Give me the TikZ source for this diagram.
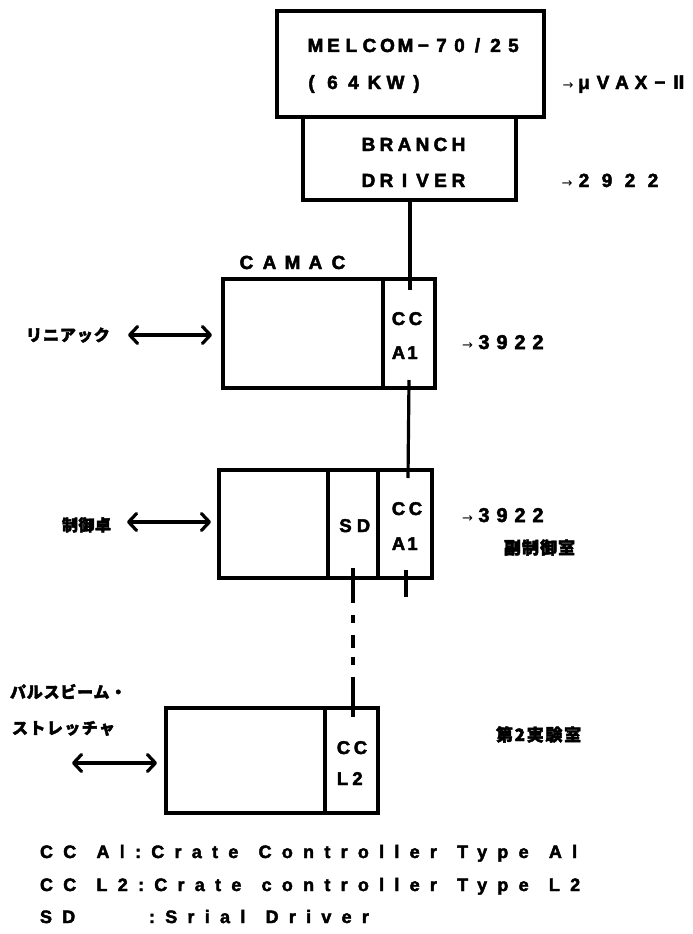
\documentclass[tikz,border=0pt]{standalone}
\usepackage{fontspec}
\setmainfont{Liberation Sans}
\newfontfamily\jp{Noto Sans CJK JP}
\newfontfamily\dv{DejaVu Sans}
\usetikzlibrary{arrows.meta}
\ExplSyntaxOn
\NewDocumentCommand\mono{mm}{\tl_map_inline:nn{#2}{\makebox[#1][c]{##1}}}
\ExplSyntaxOff
\newcommand\lsp[2]{{\addfontfeatures{LetterSpace=#1}#2}}
\newcommand\hv[1]{\bfseries\fontsize{#1}{#1}\selectfont\addfontfeatures{FakeBold=2.5}}
\newcommand\jv[1]{\jp\bfseries\fontsize{#1}{#1}\selectfont\addfontfeatures{FakeBold=2.5}}
\newcommand\ws{\hspace{5pt} }
\begin{document}
\begin{tikzpicture}[x=1pt,y=-1pt,
  box/.style={draw,line width=3.4pt,line join=miter,rectangle,inner sep=0pt,outer sep=0pt},
  lbl/.style={inner sep=0pt,outer sep=0pt,anchor=base west,font=\hv{19}},
  cell/.style={inner sep=0pt,outer sep=0pt,font=\hv{18.5},anchor=base},
  jlbl/.style={inner sep=0pt,outer sep=0pt,anchor=base west,font=\jv{16}},
  leg/.style={inner sep=0pt,outer sep=0pt,anchor=base west,font=\hv{18}},
  conn/.style={line width=3.2pt},
  barb/.tip={Straight Barb[length=8pt,width=17pt,line width=3.2pt,round]},
  biarrow/.style={line width=3.2pt,barb-barb}
]
\fill[white] (0,0) rectangle (693,934);
\useasboundingbox (0,0) rectangle (693,934);

% top boxes
\path[box] (277,11) rectangle (544,117) node[pos=0.5,inner sep=0pt] (melcom) {};
\path[box] (303,117) rectangle (516,200) node[pos=0.5,inner sep=0pt] (branch) {};
\coordinate (brbot) at (410,200);

\node[lbl] (tmel) at (306.5,52) {\mono{18pt}{MELCOM−70/25}};
\node[lbl] (t64) at (301,89) {\mono{21pt}{(64KW)}};
\node[lbl] (tvax) at (561.5,89) {\makebox[13pt][c]{\dv\mdseries\fontsize{13}{15}\selectfont →}\mono{19pt}{μVAX−{\dv Ⅱ}}};
\node[lbl] (tbr) at (359.5,151) {\mono{18pt}{BRANCH}};
\node[lbl] (tdr) at (359.5,187) {\mono{18pt}{DRIVER}};
\node[lbl] (t2922) at (561.5,187) {\makebox[11pt][c]{\dv\mdseries\fontsize{13}{15}\selectfont →}\mono{23pt}{2922}};

% crate 1
\node[lbl] (tcamac) at (235,269) {\mono{23pt}{CAMAC}};
\path[box] (223,279) rectangle (383,388) node[pos=0.5] (cr1) {};
\path[box] (383,279) rectangle (435,388) node[pos=0.5] (cc1) {};
\node[cell] (cc1a) at (407,325) {\mono{17pt}{CC}};
\node[cell] (cc1b) at (405.5,359) {\mono{14pt}{A1}};
\node[lbl,font=\hv{20}] (t3922a) at (460,349) {\makebox[15pt][c]{\dv\mdseries\fontsize{13}{15}\selectfont →}\mono{18pt}{3922}};
\node[jlbl] (tlinac) at (26,341) {\lsp{6}{リニアック}};
\coordinate (a1l) at (128,335);
\coordinate (a1r) at (212,335);
\draw[biarrow] (a1l) -- (a1r);

% crate 2
\path[box] (219,470) rectangle (328,578) node[pos=0.5] (cr2) {};
\path[box] (328,470) rectangle (378,578) node[pos=0.5] (sd2) {};
\path[box] (378,470) rectangle (432,578) node[pos=0.5] (cc2) {};
\node[cell] (cc2a) at (407,515) {\mono{17pt}{CC}};
\node[cell] (cc2b) at (405.5,550) {\mono{14pt}{A1}};
\node[cell] (sdt) at (354.5,532) {\mono{18pt}{SD}};
\node[lbl,font=\hv{20}] (t3922b) at (460,522) {\makebox[15pt][c]{\dv\mdseries\fontsize{13}{15}\selectfont →}\mono{18pt}{3922}};
\node[jlbl,font=\jv{17}] (tsub) at (504,554) {\lsp{6}{副制御室}};
\node[jlbl] (tctl) at (62,531) {\lsp{3}{制御卓}};
\coordinate (a2l) at (127,522);
\coordinate (a2r) at (211,522);
\draw[biarrow] (a2l) -- (a2r);

% crate 3
\path[box] (166,708) rectangle (325,813) node[pos=0.5] (cr3) {};
\path[box] (325,708) rectangle (378,813) node[pos=0.5] (cc3) {};
\node[cell] (cc3a) at (352,754) {\mono{17pt}{CC}};
\node[cell] (cc3b) at (350,785) {\mono{15pt}{L2}};
\node[jlbl,font=\jv{17}] (tlab2) at (496,741) {\lsp{10}{第2実験室}};
\node[jlbl] (tpb1) at (10,698) {\lsp{5}{パルスビーム・}};
\node[jlbl] (tpb2) at (12,734) {\lsp{9}{ストレッチャ}};
\coordinate (a3l) at (72,763);
\coordinate (a3r) at (157,763);
\draw[biarrow] (a3l) -- (a3r);

% connectors
\coordinate (cc1in) at (410,290);
\coordinate (cc1out) at (409,380);
\coordinate (cc2in) at (408,478);
\coordinate (cc2out) at (406,570);
\coordinate (cc2end) at (406,597);
\coordinate (sdout) at (353,568);
\coordinate (l2in) at (353,717);
\draw[conn] (brbot) -- (cc1in);
\draw[conn] (cc1out) -- (cc2in);
\draw[conn] (cc2out) -- (cc2end);
\draw[conn,dash pattern={on 35pt off 12pt on 8pt off 12pt on 13pt off 9pt on 8pt off 12pt on 40pt}] (sdout) -- (l2in);

% legend
\node[leg] (leg1) at (40,858) {\lsp{57}{CC\ws Al:Crate\ws Controller\ws Type\ws Al}};
\node[leg] (leg2) at (40,891) {\lsp{57}{CC\ws L2:Crate\ws controller\ws Type\ws L2}};
\node[leg] (leg3a) at (40,923) {\lsp{57}{SD}};
\node[leg] (leg3b) at (149,923) {\lsp{57}{:Srial\ws Driver}};
\end{tikzpicture}
\end{document}
